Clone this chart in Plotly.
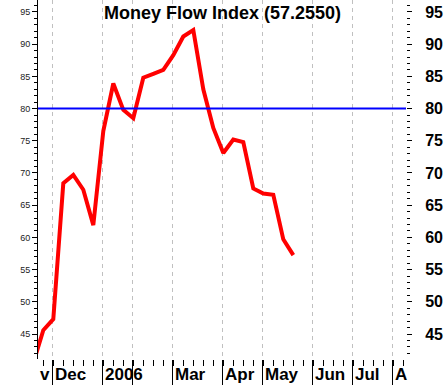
import plotly.graph_objects as go

# ---- data ----
week_index = list(range(-1, 26))
mfi_values = [40.5, 45.6, 47.3, 68.4, 69.7, 67.4, 61.9, 76.5, 83.9, 79.8, 78.5,
              84.8, 85.4, 86.0, 88.3, 91.2, 92.2, 83.0, 77.0, 73.1, 75.2, 74.8,
              67.6, 66.8, 66.6, 59.7, 57.255]
month_start_week = [0.9, 5.9, 8.9, 12.9, 17.9, 21.9, 26.9, 30.9, 34.9]
month_labels = ["Dec", "2006", "", "Mar", "Apr", "May", "Jun", "Jul", "A"]
overbought_level = 80
y_ticks = [45, 50, 55, 60, 65, 70, 75, 80, 85, 90, 95]
title_text = "Money Flow Index (57.2550)"

FONT = "Liberation Sans, Arial, sans-serif"
x_range = [-0.53, 36.27]
y_range = [41.12, 96.86]

fig = go.Figure()

fig.add_trace(go.Scatter(
    x=[x_range[0], x_range[1]], y=[overbought_level, overbought_level],
    mode="lines", line=dict(color="#0000ff", width=2), yaxis="y2",
    hoverinfo="skip", showlegend=False))

fig.add_trace(go.Scatter(
    x=week_index, y=mfi_values, mode="lines",
    line=dict(color="#ff0000", width=4), showlegend=False, yaxis="y"))

annotations = []
for k, lab in zip(month_start_week, month_labels):
    if lab:
        annotations.append(dict(
            x=k, y=0, xref="x", yref="paper", text="<b>%s</b>" % lab,
            showarrow=False, xanchor="left", yanchor="top", xshift=1, yshift=-4,
            font=dict(family=FONT, size=17, color="black")))
annotations.append(dict(
    x=0.12, y=0, xref="x", yref="paper", text="<b>v</b>",
    showarrow=False, xanchor="center", yanchor="top", yshift=-4,
    font=dict(family=FONT, size=17, color="black")))
annotations.append(dict(
    x=0.501, y=1, xref="paper", yref="paper", text="<b>%s</b>" % title_text,
    showarrow=False, xanchor="center", yanchor="top", yshift=-1,
    font=dict(family=FONT, size=18, color="black")))

fig.update_layout(
    width=445, height=385,
    margin=dict(l=38, r=39, t=0, b=26),
    plot_bgcolor="white", paper_bgcolor="white",
    showlegend=False,
    annotations=annotations,
    xaxis=dict(
        range=x_range, tickmode="array", tickvals=month_start_week,
        showticklabels=False, ticks="outside", ticklen=25, tickcolor="black",
        tickwidth=1,
        showgrid=True, gridcolor="#c0c0c0", griddash="4px,4px", gridwidth=1,
        showline=False, zeroline=False,
        minor=dict(tickmode="linear", tick0=0, dtick=1, ticks="outside",
                   ticklen=6, tickcolor="black", tickwidth=1, showgrid=False),
    ),
    yaxis=dict(
        range=y_range, tickmode="array", tickvals=y_ticks,
        ticks="outside", ticklen=5, tickcolor="black",
        showline=True, linecolor="black", linewidth=1,
        showgrid=False, zeroline=False,
        tickfont=dict(family=FONT, size=9, color="#222222"),
        minor=dict(tickmode="linear", tick0=41, dtick=1, ticks="outside",
                   ticklen=3, tickcolor="black", showgrid=False),
    ),
    yaxis2=dict(
        range=y_range, overlaying="y", side="right", anchor="x",
        tickmode="array", tickvals=y_ticks,
        ticks="outside", ticklen=5, tickcolor="black",
        showline=False, showgrid=False, zeroline=False,
        ticklabelstandoff=10,
        tickfont=dict(family=FONT, size=16, color="black", weight="bold"),
        minor=dict(tickmode="linear", tick0=41, dtick=1, ticks="outside",
                   ticklen=3, tickcolor="black", showgrid=False),
    ),
)

fig.write_html("out.html")
